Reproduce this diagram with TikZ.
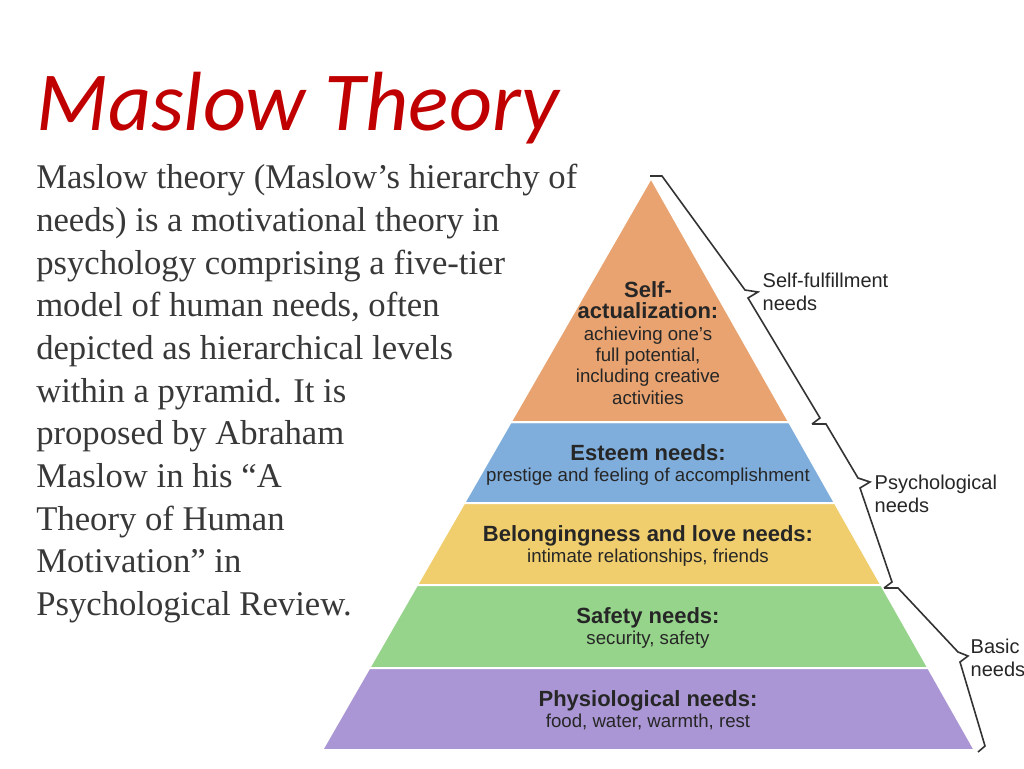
\documentclass[tikz,border=0pt]{standalone}
\usepackage{fontspec}
\setmainfont{Liberation Serif}
\newfontfamily\titlefont{Carlito}
\newfontfamily\pyrfont{Liberation Sans}
\definecolor{titlered}{RGB}{192,0,0}
\definecolor{tierorange}{RGB}{232,163,112}
\definecolor{tierblue}{RGB}{128,174,220}
\definecolor{tieryellow}{RGB}{240,206,110}
\definecolor{tiergreen}{RGB}{150,212,140}
\definecolor{tierpurple}{RGB}{170,150,212}
\tikzset{
  tier/.style={draw=white, line width=1.5pt},
  tiertext/.style={align=center, font=\pyrfont\fontsize{14}{16}\selectfont, text=black!85},
  bracelabel/.style={anchor=west, align=left, font=\pyrfont\fontsize{15}{17}\selectfont, text=black!85},
  bracket/.style={line width=1.2pt, black!80},
}
\newcommand\hd[1]{{\pyrfont\bfseries\fontsize{16.5}{18}\selectfont #1}}
\begin{document}
\begin{tikzpicture}[x=0.75pt, y=-0.75pt]
\useasboundingbox (0,0) rectangle (1024,768);
% title and text
\node[anchor=base west, text=titlered, font=\titlefont\itshape\fontsize{63}{68}\selectfont, inner sep=0] (title) at (36,130) {Maslow Theory};
\node[anchor=north west, align=left, inner sep=0, text=black!78, font=\fontsize{26}{32}\selectfont] (body) at (36,164)
  {Maslow theory (Maslow’s hierarchy of\\ needs) is a motivational theory in\\ psychology comprising a five-tier\\ model of human needs, often\\ depicted as hierarchical levels\\ within a pyramid. It is\\ proposed by Abraham\\ Maslow in his “A\\ Theory of Human\\ Motivation” in\\ Psychological Review.};
% pyramid tiers
\def\lx#1{651-0.575*(#1-178)}
\def\rx#1{651+0.566*(#1-178)}
\fill[tierorange] (651,178) -- ({\rx{422}},422) -- ({\lx{422}},422) -- cycle;
\foreach \ya/\yb/\c in {422/503/tierblue, 503/585/tieryellow, 585/668/tiergreen, 668/750/tierpurple}
  \filldraw[tier, fill=\c] ({\lx{\ya}},\ya) -- ({\rx{\ya}},\ya) -- ({\rx{\yb}},\yb) -- ({\lx{\yb}},\yb) -- cycle;
\draw[tier] (651,178) -- ({\rx{422}},422) -- ({\lx{422}},422) -- cycle;
% tier labels
\node[tiertext] (self) at (648,343) {\hd{Self-}\\ \hd{actualization:}\\ achieving one’s\\ full potential,\\ including creative\\ activities};
\node[tiertext] (esteem) at (648,465) {\hd{Esteem needs:}\\ prestige and feeling of accomplishment};
\node[tiertext] (belong) at (648,546) {\hd{Belongingness and love needs:}\\ intimate relationships, friends};
\node[tiertext] (safety) at (648,628) {\hd{Safety needs:}\\ security, safety};
\node[tiertext] (physio) at (648,710) {\hd{Physiological needs:}\\ food, water, warmth, rest};
% brackets
\draw[bracket] (650,176) -- (662,176) -- (745,290) -- (758,292) -- (748,298) -- (820,418) -- (812,424);
\draw[bracket] (812,424) -- (826,424) -- (858,478) -- (870,482) -- (860,488) -- (892,582) -- (884,588);
\draw[bracket] (884,588) -- (898,588) -- (958,652) -- (968,656) -- (960,662) -- (985,746) -- (978,752);
\node[bracelabel] (fulfil) at (758,292) {Self-fulfillment\\ needs};
\node[bracelabel] (psych) at (870,494) {Psychological\\ needs};
\node[bracelabel] (basic) at (966,658) {Basic\\ needs};
\end{tikzpicture}
\end{document}
